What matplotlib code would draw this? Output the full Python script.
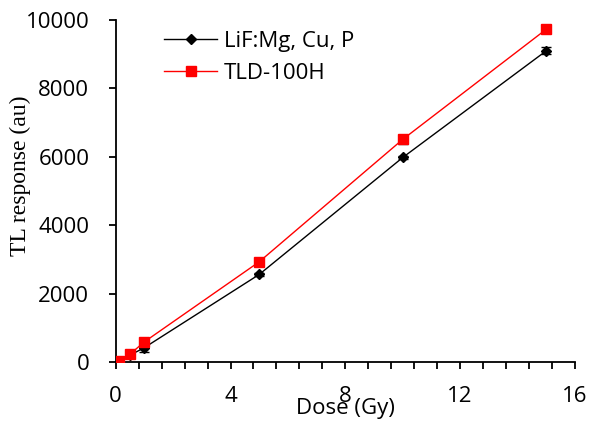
import numpy as np
import matplotlib.pyplot as plt
from matplotlib.ticker import MultipleLocator

# -------------------------------------------------
# Data
# -------------------------------------------------
dose = [0.1, 0.5, 1, 5, 10, 15]

lif_resp = [30, 200, 420, 2560, 5980, 9100]
lif_err = [20, 40, 120, 50, 50, 100]

tld_resp = [40, 230, 590, 2930, 6510, 9730]
tld_err = [20, 40, 80, 70, 130, 80]

labels = ["LiF:Mg, Cu, P", "TLD-100H"]

# -------------------------------------------------
# Figure
# -------------------------------------------------
plt.rcParams.update({
    'font.family': 'Open Sans',
    'font.size': 16,
})

W, H = 589, 423
fig = plt.figure(figsize=(W / 100, H / 100), dpi=100)
ax = fig.add_axes([115.7 / W, 1 - 362 / H, (575 - 115.7) / W, (362 - 20) / H])

c1 = ax.errorbar(dose, lif_resp, yerr=lif_err, color='black', lw=1.0,
                 marker='D', markersize=5, ecolor='black', elinewidth=1.0,
                 capsize=3.5, capthick=1.0, zorder=3)
c2 = ax.errorbar(dose, tld_resp, yerr=tld_err, color='red', lw=1.0,
                 marker='s', markersize=7.5, ecolor='#333333', elinewidth=1.0,
                 capsize=3.5, capthick=1.0, zorder=4)

ax.set_xlim(0, 16)
ax.set_ylim(0, 10000)
ax.xaxis.set_major_locator(MultipleLocator(4))
ax.xaxis.set_minor_locator(MultipleLocator(0.8))
ax.yaxis.set_major_locator(MultipleLocator(2000))

for side in ['top', 'right']:
    ax.spines[side].set_visible(False)
for side in ['left', 'bottom']:
    ax.spines[side].set_linewidth(1.3)

ax.tick_params(axis='both', which='both', direction='out', width=1.3,
               length=5, labelsize=16)
ax.tick_params(axis='y', pad=14)
ax.tick_params(axis='x', pad=12)

ax.set_ylabel("TL response (au)", family='Liberation Serif', fontsize=17)
ax.yaxis.set_label_coords(-0.185, 0.545)
fig.text(345 / W, 1 - 414 / H, "Dose (Gy)", ha='center', va='baseline',
         fontsize=16)

ax.legend([c1.lines[0], c2.lines[0]], labels,
          loc='upper left', bbox_to_anchor=(164 / W, 1 - 31 / H),
          bbox_transform=fig.transFigure, frameon=False, fontsize=16,
          handlelength=2.4, handletextpad=0.3, labelspacing=0.5,
          borderpad=0, borderaxespad=0)

fig.savefig("out.png", dpi=100)
